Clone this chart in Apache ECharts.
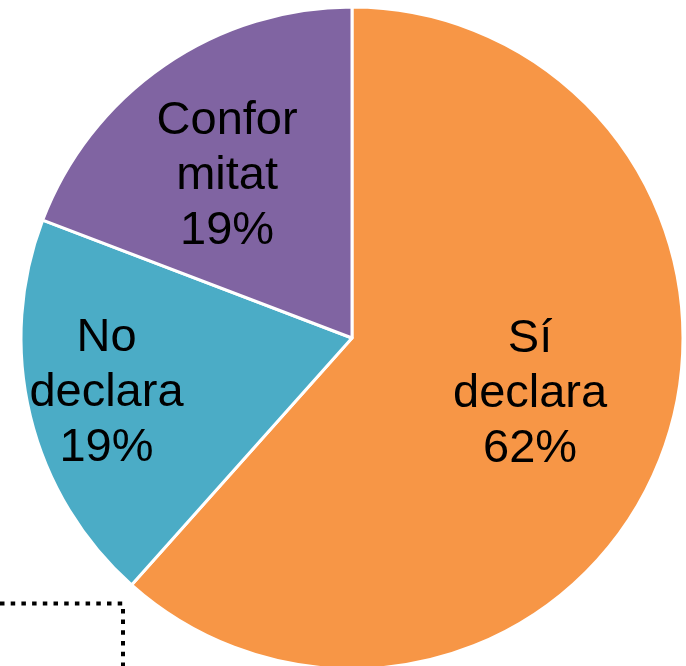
<!DOCTYPE html>
<html>
<head>
<meta charset="utf-8">
<script src="https://cdn.jsdelivr.net/npm/echarts@6/dist/echarts.min.js"></script>
<style>
    html, body { margin: 0; padding: 0; background: #fff; }
    #chart { width: 686px; height: 666px; }
</style>
</head>
<body>
<div id="chart"></div>
<script>
    // dades del gràfic
    var categories = ['Sí declara', 'No declara', 'Conformitat'];
    var values = [61.6, 19.2, 19.2];
    var labelLines = [['Sí', 'declara'], ['No', 'declara'], ['Confor', 'mitat']];
    var colors = ['#F79646', '#4BACC6', '#8064A2'];
    // posició de cada etiqueta: fracció del radi i desviació (graus) respecte a l'angle mitjà
    var labelRadius = [0.564, 0.76, 0.619];
    var labelNudge = [-3.4, 1.1, -3.0];

    var cx = 352, cy = 338, R = 331;
    var total = values.reduce(function (a, b) { return a + b; }, 0);

    var chart = echarts.init(document.getElementById('chart'));
    chart.setOption({
        animation: false,
        color: colors,
        series: [{
            type: 'pie',
            center: [cx, cy],
            radius: R,
            startAngle: 90,
            clockwise: true,
            itemStyle: {
                borderColor: '#fff',
                borderWidth: 3
            },
            label: {
                position: 'inside',
                color: '#000',
                fontFamily: 'Liberation Sans, Arial, sans-serif',
                fontSize: 47,
                lineHeight: 55,
                align: 'center',
                formatter: function (p) {
                    return labelLines[p.dataIndex].join('\n') + '\n' + Math.round(p.percent) + '%';
                }
            },
            labelLine: { show: false },
            labelLayout: function (p) {
                var before = 0;
                for (var i = 0; i < p.dataIndex; i++) before += values[i];
                var mid = (before + values[p.dataIndex] / 2) / total * Math.PI * 2
                    + labelNudge[p.dataIndex] * Math.PI / 180;
                var r = R * labelRadius[p.dataIndex];
                return {
                    x: cx + r * Math.sin(mid),
                    y: cy - r * Math.cos(mid),
                    align: 'center',
                    verticalAlign: 'middle'
                };
            },
            data: categories.map(function (name, i) {
                return { name: name, value: values[i] };
            })
        }],
        graphic: [{
            type: 'polyline',
            shape: { points: [[0, 603.5], [123, 603.5], [123, 670]] },
            style: {
                stroke: '#000',
                lineWidth: 4,
                lineDash: [4.5, 6.2],
                fill: null
            }
        }]
    });
</script>
</body>
</html>
